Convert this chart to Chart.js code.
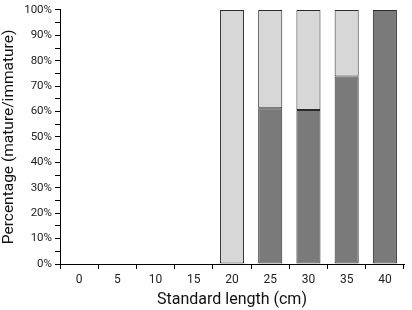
<!DOCTYPE html>
<html><head><meta charset="utf-8">
<script src="https://cdn.jsdelivr.net/npm/chart.js@4/dist/chart.umd.min.js"></script>
<style>html,body{margin:0;padding:0;background:#fff}#w{width:412px;height:310px}</style>
</head><body><div id="w"><canvas id="c" width="412" height="310"></canvas></div>
<script>
const categories = ['0','5','10','15','20','25','30','35','40'];
const mature = [null,null,null,null,null,61.3,60.6,73.8,100];
const immature = [null,null,null,null,100,38.7,39.4,26.2,null];
const yTickStep = 5;

const FONT = "Roboto,'Liberation Sans',sans-serif";
new Chart(document.getElementById('c'), {
  type: 'bar',
  data: {
    labels: categories,
    datasets: [
      {label:'Mature', data: mature, backgroundColor:'#7a7a7a', borderColor:'#2a2a2a', borderWidth:1, borderSkipped:false, barPercentage:0.63, categoryPercentage:1},
      {label:'Immature', data: immature, backgroundColor:'#d7d7d7', borderColor:'#2a2a2a', borderWidth:1, borderSkipped:false, barPercentage:0.63, categoryPercentage:1}
    ]
  },
  options: {
    responsive:false, animation:false, devicePixelRatio:1,
    layout:{padding:{top:4,right:8,left:0,bottom:0}},
    plugins:{legend:{display:false}, tooltip:{enabled:false}},
    scales:{
      x:{stacked:true,
        grid:{display:true, drawOnChartArea:false, drawTicks:true, tickLength:5, color:'#000', offset:true},
        border:{color:'#000', width:1},
        ticks:{color:'#222', font:{family:FONT,size:12}, padding:4, maxRotation:0},
        title:{display:true, text:'Standard length (cm)', color:'#111', font:{family:FONT,size:16}, padding:{top:1,bottom:0}},
        afterFit: s => { s.height = 46; }
      },
      y:{stacked:true, min:0, max:100,
        grid:{display:true, drawOnChartArea:false, drawTicks:true, tickLength:5, color:'#000'},
        border:{color:'#000', width:1},
        ticks:{stepSize:yTickStep, autoSkip:false, color:'#222', font:{family:FONT,size:11.5}, padding:3,
          callback: v => (v % 10 === 0 ? v + '%' : '')},
        title:{display:true, text:'Percentage (mature/immature)', color:'#111', font:{family:FONT,size:15.5}, padding:{top:0,bottom:3}},
        afterFit: s => { s.width = 60; }
      }
    }
  }
});
</script></body></html>
